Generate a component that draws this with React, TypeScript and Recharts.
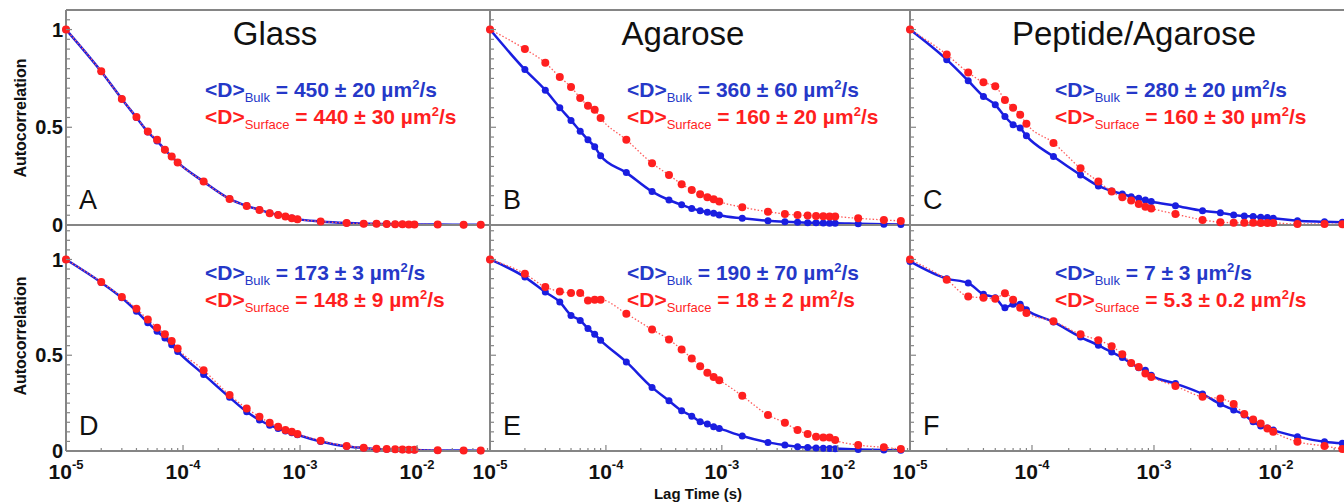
import React from 'react';
import { ComposedChart, Line, XAxis, YAxis } from 'recharts';

// lag times (s) shared by every panel
const LAG = [
  1e-5, 2e-5, 3e-5, 4e-5, 5e-5, 6e-5, 7e-5, 8e-5, 9e-5, 1.5e-4, 2.5e-4, 3.5e-4, 4.5e-4, 5.5e-4, 6.5e-4,
  7.5e-4, 8.5e-4, 9.5e-4, 1.5e-3, 2.5e-3, 3.5e-3, 4.5e-3, 5.5e-3, 6.5e-3, 7.5e-3, 8.5e-3, 9.5e-3, 1.5e-2,
  2.5e-2, 3.5e-2,
];

// A - glass (top)
const glassBulkA = [1.0, 0.785, 0.645, 0.55, 0.476, 0.43, 0.385, 0.35, 0.32, 0.222, 0.134, 0.098, 0.078, 0.062, 0.052, 0.044, 0.036, 0.03, 0.018, 0.01, 0.007, 0.006, 0.005, 0.004, 0.004, 0.003, 0.003, 0.002, 0.001, 0.001];
const glassSurfaceA = [1.0, 0.786, 0.645, 0.552, 0.478, 0.436, 0.385, 0.35, 0.32, 0.222, 0.133, 0.097, 0.077, 0.06, 0.051, 0.043, 0.034, 0.029, 0.018, 0.01, 0.007, 0.006, 0.005, 0.004, 0.004, 0.003, 0.003, 0.002, 0.001, 0.001];
// B - agarose (top)
const agaroseBulkB = [1.0, 0.795, 0.69, 0.6, 0.535, 0.48, 0.436, 0.4, 0.354, 0.268, 0.171, 0.128, 0.103, 0.085, 0.073, 0.065, 0.06, 0.051, 0.034, 0.022, 0.017, 0.014, 0.012, 0.011, 0.01, 0.009, 0.009, 0.006, 0.004, 0.003];
const agaroseSurfaceB = [1.0, 0.9, 0.83, 0.757, 0.706, 0.65, 0.61, 0.59, 0.547, 0.436, 0.316, 0.256, 0.209, 0.179, 0.157, 0.142, 0.132, 0.12, 0.091, 0.068, 0.056, 0.051, 0.048, 0.046, 0.045, 0.044, 0.043, 0.034, 0.026, 0.021];
// C - peptide/agarose (top)
const peptideBulkC = [1.0, 0.846, 0.738, 0.658, 0.615, 0.555, 0.513, 0.496, 0.456, 0.35, 0.256, 0.2, 0.174, 0.159, 0.145, 0.137, 0.128, 0.12, 0.099, 0.073, 0.063, 0.051, 0.046, 0.043, 0.04, 0.038, 0.034, 0.022, 0.017, 0.014];
const peptideSurfaceC = [1.0, 0.872, 0.78, 0.73, 0.71, 0.64, 0.6, 0.564, 0.518, 0.42, 0.29, 0.222, 0.171, 0.142, 0.125, 0.108, 0.094, 0.085, 0.056, 0.026, 0.014, 0.012, 0.011, 0.011, 0.01, 0.01, 0.01, 0.005, 0.005, 0.004];
// D - glass (bottom)
const glassBulkD = [1.0, 0.88, 0.8, 0.73, 0.67, 0.625, 0.59, 0.555, 0.52, 0.4, 0.28, 0.205, 0.162, 0.135, 0.118, 0.104, 0.095, 0.085, 0.05, 0.024, 0.016, 0.011, 0.009, 0.008, 0.007, 0.006, 0.005, 0.003, 0.002, 0.001];
const glassSurfaceD = [1.0, 0.882, 0.804, 0.743, 0.686, 0.644, 0.609, 0.574, 0.535, 0.422, 0.292, 0.222, 0.179, 0.147, 0.127, 0.109, 0.1, 0.089, 0.054, 0.026, 0.017, 0.012, 0.01, 0.009, 0.008, 0.007, 0.006, 0.004, 0.002, 0.002];
// E - agarose (bottom)
const agaroseBulkE = [1.0, 0.908, 0.83, 0.778, 0.708, 0.682, 0.639, 0.609, 0.578, 0.465, 0.332, 0.262, 0.21, 0.182, 0.153, 0.141, 0.127, 0.118, 0.078, 0.045, 0.031, 0.022, 0.018, 0.016, 0.014, 0.013, 0.012, 0.008, 0.005, 0.004];
const agaroseSurfaceE = [1.0, 0.925, 0.856, 0.833, 0.825, 0.825, 0.786, 0.79, 0.79, 0.717, 0.634, 0.582, 0.53, 0.483, 0.443, 0.408, 0.387, 0.37, 0.288, 0.188, 0.147, 0.109, 0.089, 0.075, 0.071, 0.071, 0.057, 0.031, 0.019, 0.01];
// F - peptide/agarose (bottom)
const peptideBulkF = [0.99, 0.9, 0.877, 0.818, 0.8, 0.748, 0.766, 0.766, 0.738, 0.674, 0.595, 0.552, 0.517, 0.488, 0.458, 0.435, 0.422, 0.396, 0.352, 0.297, 0.245, 0.214, 0.188, 0.153, 0.13, 0.12, 0.109, 0.075, 0.048, 0.04];
const peptideSurfaceF = [1.0, 0.894, 0.807, 0.8, 0.795, 0.824, 0.79, 0.748, 0.72, 0.677, 0.609, 0.578, 0.547, 0.505, 0.46, 0.439, 0.405, 0.387, 0.339, 0.283, 0.274, 0.245, 0.193, 0.165, 0.144, 0.118, 0.1, 0.048, 0.026, 0.01];

const X_TICKS = [
  1e-5, 2e-5, 3e-5, 4e-5, 5e-5, 6e-5, 7e-5, 8e-5, 9e-5,
  1e-4, 2e-4, 3e-4, 4e-4, 5e-4, 6e-4, 7e-4, 8e-4, 9e-4,
  1e-3, 2e-3, 3e-3, 4e-3, 5e-3, 6e-3, 7e-3, 8e-3, 9e-3,
  1e-2, 2e-2, 3e-2, 4e-2,
];
const Y_TICKS = [0, 0.05, 0.1, 0.15, 0.2, 0.25, 0.3, 0.35, 0.4, 0.45, 0.5, 0.55, 0.6, 0.65, 0.7, 0.75, 0.8, 0.85, 0.9, 0.95, 1, 1.05, 1.1, 1.15];
const Y_LABELS = [0, 0.5, 1];

const X_DOMAIN: [number, number] = [1e-5, 0.042];

const BLUE = '#1a1ee0';
const BLUE_TXT = '#2538c8';
const RED = '#ff1f1f';
const RED_LINE = '#ff5a5a';
const AXIS = '#858585';
const FONT = '"Liberation Sans", Arial, Helvetica, sans-serif';

// plot-area geometry in page pixels
const COLS = [
  { left: 66, width: 424 },
  { left: 490, width: 420 },
  { left: 910, width: 442 },
];
const ROWS = [
  { top: 10, height: 215, yMax: 1.1 },
  { top: 225, height: 226, yMax: 1.18 },
];

const PANELS = [
  { letter: 'A', row: 0, col: 0, title: 'Glass', bulk: glassBulkA, surface: glassSurfaceA, dBulk: '450 ± 20', dSurface: '440 ± 30' },
  { letter: 'B', row: 0, col: 1, title: 'Agarose', bulk: agaroseBulkB, surface: agaroseSurfaceB, dBulk: '360 ± 60', dSurface: '160 ± 20' },
  { letter: 'C', row: 0, col: 2, title: 'Peptide/Agarose', bulk: peptideBulkC, surface: peptideSurfaceC, dBulk: '280 ± 20', dSurface: '160 ± 30' },
  { letter: 'D', row: 1, col: 0, title: '', bulk: glassBulkD, surface: glassSurfaceD, dBulk: '173 ± 3', dSurface: '148 ± 9' },
  { letter: 'E', row: 1, col: 1, title: '', bulk: agaroseBulkE, surface: agaroseSurfaceE, dBulk: '190 ± 70', dSurface: '18 ± 2' },
  { letter: 'F', row: 1, col: 2, title: '', bulk: peptideBulkF, surface: peptideSurfaceF, dBulk: '7 ± 3', dSurface: '5.3 ± 0.2' },
];

// axis band sizes (space reserved around each plot area)
const Y_W = 56;
const X_H = 42;
const TOP_H = 6;

function makeYTick(showLabel: boolean) {
  return (props: any) => {
    const { x, y, payload } = props;
    const v = payload.value;
    const major = Y_LABELS.some((l) => Math.abs(l - v) < 1e-6);
    return (
      <g>
        <line x1={x} x2={x + (major ? 6 : 4)} y1={y} y2={y} stroke={AXIS} strokeWidth={1.2} />
        {showLabel && major && (
          <text x={x - 3} y={y} dy="0.36em" textAnchor="end" fontSize={20} fontWeight="bold" fill="#111" fontFamily={FONT}>
            {String(v)}
          </text>
        )}
      </g>
    );
  };
}

function XTick(props: any) {
  const { x, y, payload } = props;
  const v = payload.value;
  const exp = Math.round(Math.log10(v));
  const major = Math.abs(v - Math.pow(10, exp)) < v * 1e-6;
  return (
    <g>
      <line x1={x} x2={x} y1={y} y2={y - (major ? 6 : 3)} stroke={AXIS} strokeWidth={1.2} />
      {major && (
        <text x={x} y={y + 28} textAnchor="middle" fontSize={21} fontWeight="bold" fill="#111" fontFamily={FONT}>
          <tspan>10</tspan>
          <tspan dy={-10} fontSize={13}>{String(exp)}</tspan>
        </text>
      )}
    </g>
  );
}

function Panel({ p }: { p: (typeof PANELS)[number] }) {
  const col = COLS[p.col];
  const row = ROWS[p.row];
  const data = LAG.map((t, i) => ({ t, bulk: p.bulk[i], surface: p.surface[i] }));
  const yTicks = Y_TICKS.filter((v) => v < row.yMax - 0.01);
  const isTop = p.row === 0;
  const margin = { left: 0, right: 4, top: isTop ? 0 : TOP_H, bottom: 0 };
  return (
    <div style={{ position: 'absolute', left: col.left - Y_W, top: row.top - TOP_H }}>
      <ComposedChart width={col.width + Y_W + 4} height={row.height + TOP_H + X_H} data={data} margin={margin}>
        <XAxis
          dataKey="t"
          type="number"
          scale="log"
          domain={X_DOMAIN}
          ticks={X_TICKS}
          interval={0}
          height={X_H}
          tickSize={0}
          tickMargin={0}
          tickLine={false}
          axisLine={{ stroke: AXIS, strokeWidth: 2 }}
          tick={isTop ? false : XTick}
        />
        {isTop && (
          <XAxis
            xAxisId="top"
            orientation="top"
            dataKey="t"
            type="number"
            scale="log"
            domain={X_DOMAIN}
            height={TOP_H}
            tick={false}
            tickLine={false}
            axisLine={{ stroke: AXIS, strokeWidth: 2 }}
          />
        )}
        <YAxis
          type="number"
          domain={[0, row.yMax]}
          ticks={yTicks}
          interval={0}
          width={Y_W}
          tickSize={0}
          tickMargin={0}
          tickLine={false}
          axisLine={{ stroke: AXIS, strokeWidth: 2 }}
          tick={makeYTick(p.col === 0)}
        />
        <Line
          dataKey="bulk"
          type="monotone"
          stroke={BLUE}
          strokeWidth={2.5}
          dot={{ r: 3.5, fill: BLUE, stroke: BLUE, strokeWidth: 0 }}
          isAnimationActive={false}
        />
        <Line
          dataKey="surface"
          type="monotone"
          stroke={RED_LINE}
          strokeWidth={1.3}
          strokeDasharray="1.5 2"
          dot={{ r: 4, fill: RED, stroke: RED, strokeWidth: 0 }}
          isAnimationActive={false}
        />
      </ComposedChart>
    </div>
  );
}

function Annotation({ p }: { p: (typeof PANELS)[number] }) {
  const x = p.col === 0 ? 205 : p.col === 1 ? 627 : 1055;
  const yb = p.row === 0 ? 97 : 280;
  const cx = COLS[p.col].left + 13;
  const ly = p.row === 0 ? 209 : 435;
  return (
    <g fontFamily={FONT}>
      {p.title && (
        <text x={COLS[p.col].left + (p.col === 0 ? 209 : p.col === 1 ? 193 : 224)} y={45} textAnchor="middle" fontSize={33} fill="#111">
          {p.title}
        </text>
      )}
      <text x={cx} y={ly} fontSize={27} fill="#111">{p.letter}</text>
      <text x={x} y={yb} fill={BLUE_TXT} fontSize={21} fontWeight="bold">
        {'<D>'}
        <tspan fontSize={13} fontWeight="normal" dy={5}>Bulk</tspan>
        <tspan dy={-5}>{` = ${p.dBulk} µm`}</tspan>
        <tspan fontSize={13} dy={-8}>2</tspan>
        <tspan dy={8}>/s</tspan>
      </text>
      <text x={x} y={yb + 27} fill={RED} fontSize={21} fontWeight="bold">
        {'<D>'}
        <tspan fontSize={13} fontWeight="normal" dy={5}>Surface</tspan>
        <tspan dy={-5}>{` = ${p.dSurface} µm`}</tspan>
        <tspan fontSize={13} dy={-8}>2</tspan>
        <tspan dy={8}>/s</tspan>
      </text>
    </g>
  );
}

export default function App() {
  return (
    <div style={{ position: 'absolute', left: 0, top: 0, width: 1344, height: 502, overflow: 'hidden', background: '#fff' }}>
      {PANELS.map((p) => (
        <Panel key={p.letter} p={p} />
      ))}
      <svg width={1344} height={502} style={{ position: 'absolute', left: 0, top: 0, pointerEvents: 'none' }}>
        {PANELS.map((p) => (
          <Annotation key={p.letter} p={p} />
        ))}
        <g fontFamily={FONT} fontWeight="bold" fontSize={16} fill="#111">
          <text transform="translate(26,118) rotate(-90)" textAnchor="middle">Autocorrelation</text>
          <text transform="translate(26,336) rotate(-90)" textAnchor="middle">Autocorrelation</text>
          <text x={698} y={499} textAnchor="middle" fontSize={15}>Lag Time (s)</text>
        </g>
      </svg>
    </div>
  );
}
